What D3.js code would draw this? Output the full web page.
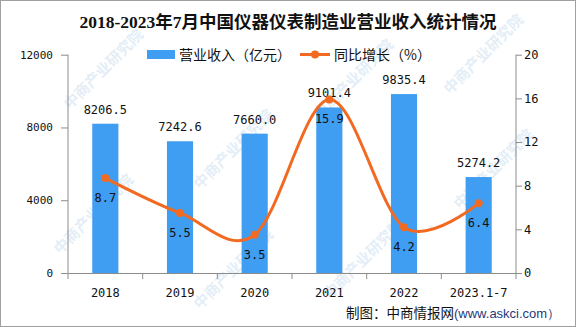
<!DOCTYPE html>
<html><head><meta charset="utf-8">
<script src="https://cdn.jsdelivr.net/npm/d3@7/dist/d3.min.js"></script>
<style>html,body{margin:0;padding:0;background:#fff;}svg{display:block;}</style>
</head><body>
<script>
const categories = ["2018","2019","2020","2021","2022","2023.1-7"];
const revenue = [8206.5, 7242.6, 7660.0, 9101.4, 9835.4, 5274.2];
const growth = [8.7, 5.5, 3.5, 15.9, 4.2, 6.4];
const leftTicks = [0, 4000, 8000, 12000];
const rightTicks = [0, 4, 8, 12, 16, 20];
const title = "2018-2023年7月中国仪器仪表制造业营业收入统计情况";
const legendLabels = ["营业收入（亿元）", "同比增长（%）"];
const sourceMain = "制图：中商情报网";
const sourceUrl = "(www.askci.com）";

const W = 576, H = 327;
const barColor = "#3f9df2", lineColor = "#f26a21", axisColor = "#8c8c8c";
const mono = "'DejaVu Sans Mono', 'Liberation Mono', monospace";
const cjk = "'Noto Sans CJK SC', sans-serif";

const svg = d3.select("body").append("svg").attr("width", W).attr("height", H);
svg.append("rect").attr("x",0.5).attr("y",0.5).attr("width",W-1).attr("height",H-1)
  .attr("fill","#fff").attr("stroke","#a0a0a0");

const x = d3.scaleBand().domain(categories).range([68, 516]).padding(0);
const yL = d3.scaleLinear().domain([0, 12000]).range([273, 54.7]);
const yR = d3.scaleLinear().domain([0, 20]).range([273, 54.7]);

// watermarks
const wm = svg.append("g").attr("pointer-events","none");
const wmPos = [[70,110],[200,190],[320,120],[200,310],[330,300],[460,210],[60,255],[450,95]];
wmPos.forEach(p => {
  wm.append("text").attr("transform", `translate(${p[0]},${p[1]}) rotate(-45)`)
    .attr("font-family", cjk).attr("font-weight","bold").attr("font-size", 15)
    .attr("fill", "#9cc3e4").attr("opacity", 0.28).text("中商产业研究院");
});

// title
svg.append("text").attr("x", 288).attr("y", 28).attr("text-anchor","middle")
  .attr("font-family", "'Liberation Serif', 'Noto Sans CJK SC', serif")
  .attr("font-weight","bold").attr("font-size", 17.5).attr("fill","#111").text(title);

// bars
const bw = x.bandwidth() * 0.35;
svg.append("g").selectAll("rect").data(revenue).join("rect")
  .attr("x", (d,i) => x(categories[i]) + x.bandwidth()/2 - bw/2)
  .attr("y", d => yL(d)).attr("width", bw).attr("height", d => yL(0) - yL(d))
  .attr("fill", barColor);

// left axis
const gL = svg.append("g").attr("transform","translate(68,0)")
  .call(d3.axisLeft(yL).tickValues(leftTicks).tickSize(7).tickPadding(8).tickSizeOuter(0).tickFormat(d3.format("d")));
gL.selectAll("text").attr("font-family", mono).attr("font-size", 11).attr("fill","#111");
// right axis
const gR = svg.append("g").attr("transform","translate(516,0)")
  .call(d3.axisRight(yR).tickValues(rightTicks).tickSize(6).tickPadding(2).tickSizeOuter(0));
gR.selectAll("text").attr("font-family", mono).attr("font-size", 12).attr("fill","#111");
[gL, gR].forEach(g => { g.selectAll("path,line").attr("stroke", axisColor); g.select(".domain").attr("d", null); });
gL.append("line").attr("x1",0).attr("x2",0).attr("y1",yL(0)).attr("y2",yL(12000)).attr("stroke",axisColor);
gR.append("line").attr("x1",0).attr("x2",0).attr("y1",yR(0)).attr("y2",yR(20)).attr("stroke",axisColor);

// bottom axis
const gB = svg.append("g").attr("transform", `translate(0,${yL(0)})`)
  .call(d3.axisBottom(x).tickSize(0).tickPadding(15).tickSizeOuter(0));
gB.select(".domain").attr("stroke", axisColor);
gB.selectAll("text").attr("font-family", mono).attr("font-size", 12).attr("fill","#111");
const bounds = categories.map(c => x(c)).concat([x.range()[1]]);
gB.selectAll(".sep").data(bounds).join("line").attr("class","sep")
  .attr("x1", d => d).attr("x2", d => d).attr("y1", 0).attr("y2", 6).attr("stroke", axisColor);

// bar labels
svg.append("g").selectAll("text").data(revenue).join("text")
  .attr("x", (d,i) => x(categories[i]) + x.bandwidth()/2)
  .attr("y", d => yL(d) - 10).attr("text-anchor","middle")
  .attr("font-family", mono).attr("font-size", 12).attr("fill","#111")
  .text(d => d.toFixed(1));

// line
const pts = growth.map((d,i) => [x(categories[i]) + x.bandwidth()/2, yR(d)]);
svg.append("path").attr("d", d3.line().curve(d3.curveCardinal.tension(0))(pts))
  .attr("fill","none").attr("stroke", lineColor).attr("stroke-width", 3);
svg.append("g").selectAll("circle").data(growth).join("circle")
  .attr("cx", (d,i) => x(categories[i]) + x.bandwidth()/2).attr("cy", d => yR(d))
  .attr("r", 4).attr("fill", lineColor);
svg.append("g").selectAll("text").data(growth).join("text")
  .attr("x", (d,i) => x(categories[i]) + x.bandwidth()/2)
  .attr("y", d => yR(d) + 24).attr("text-anchor","middle")
  .attr("font-family", mono).attr("font-size", 12).attr("fill","#111")
  .text(d => d.toFixed(1));

// legend
svg.append("rect").attr("x",147).attr("y",50).attr("width",28).attr("height",9).attr("fill",barColor);
svg.append("text").attr("x",179).attr("y",60).attr("font-family",cjk).attr("font-size",14).attr("fill","#111").text(legendLabels[0]);
svg.append("line").attr("x1",300).attr("x2",330).attr("y1",54.5).attr("y2",54.5).attr("stroke",lineColor).attr("stroke-width",3);
svg.append("circle").attr("cx",315).attr("cy",54.5).attr("r",4).attr("fill",lineColor);
svg.append("text").attr("x",334).attr("y",60).attr("font-family",cjk).attr("font-size",14).attr("fill","#111").text(legendLabels[1]);

// source
const src = svg.append("text").attr("x",346).attr("y",318).attr("font-family",cjk).attr("font-size",13.5).attr("fill","#111");
src.append("tspan").text(sourceMain);
src.append("tspan").attr("font-family","'Liberation Sans', Arial, sans-serif").attr("font-size",13).attr("fill","#1f3a7a").text(sourceUrl);
</script>
</body></html>
